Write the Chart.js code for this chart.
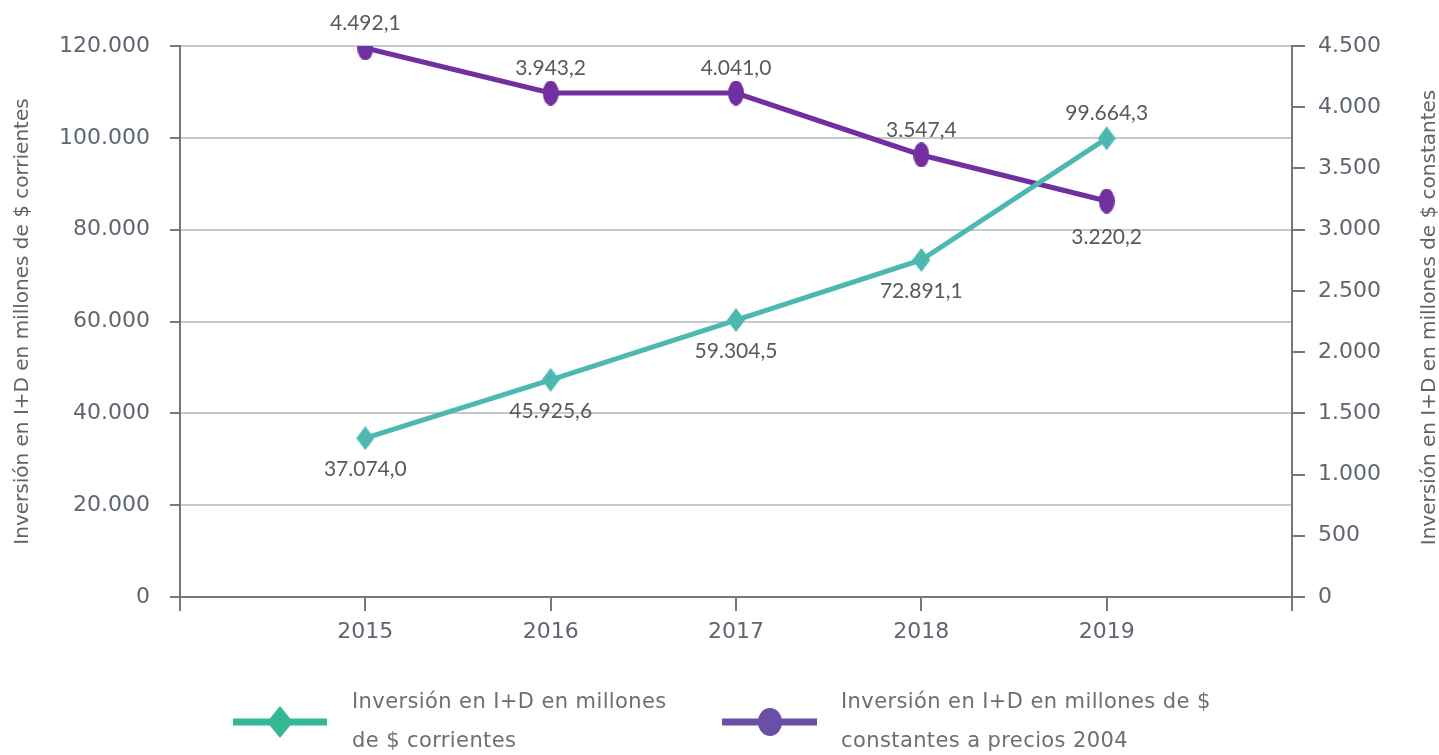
<!DOCTYPE html>
<html>
<head>
<meta charset="utf-8">
<script src="https://cdn.jsdelivr.net/npm/chart.js@4.4.1/dist/chart.umd.min.js"></script>
<style>
  html, body { margin: 0; padding: 0; background: #fff; }
  #wrap { width: 1439px; height: 755px; position: relative; }
</style>
</head>
<body>
<div id="wrap"><canvas id="chart"></canvas></div>
<script>
// years on the x axis
var years = [2015, 2016, 2017, 2018, 2019];
// where each point sits on the plot
var corrientes = [34600, 47300, 60300, 73400, 99900];
var constantes = [4484, 4116, 4116, 3610, 3234];
// the numbers printed next to each point
var corrientesText = ['37.074,0', '45.925,6', '59.304,5', '72.891,1', '99.664,3'];
var constantesText = ['4.492,1', '3.943,2', '4.041,0', '3.547,4', '3.220,2'];
// axis ticks
var leftTicks = [0, 20000, 40000, 60000, 80000, 100000, 120000];
var rightTicks = [0, 500, 1000, 1500, 2000, 2500, 3000, 3500, 4000, 4500];
// text
var leftTitle = 'Inversión en I+D en millones de $ corrientes';
var rightTitle = 'Inversión en I+D en millones de $ constantes';
var seriesNames = ['Inversión en I+D en millones de $ corrientes', 'Inversión en I+D en millones de $ constantes a precios 2004'];
var legendLines = [['Inversión en I+D en millones', 'de $ corrientes'], ['Inversión en I+D en millones de $', 'constantes a precios 2004']];

// label placement (style only)
var corrientesPos = ['below', 'below', 'below', 'below', 'above'];
var constantesPos = ['above', 'above', 'above', 'above', 'below'];

var GREEN = '#4db8b0';
var PURPLE = '#7030a0';
var AXIS = '#74777b';
var GRID = '#c7cacc';
var TICKTXT = '#5f6670';

function dots(v) {
    return String(v).replace(/\B(?=(\d{3})+(?!\d))/g, '.');
}

// point markers
function makeDiamond(w, h, color) {
    var c = document.createElement('canvas');
    c.width = w; c.height = h;
    var g = c.getContext('2d');
    g.fillStyle = color;
    g.beginPath();
    g.moveTo(w / 2, 0);
    g.lineTo(w, h / 2);
    g.lineTo(w / 2, h);
    g.lineTo(0, h / 2);
    g.closePath();
    g.fill();
    return c;
}
function makeEllipse(w, h, color) {
    var c = document.createElement('canvas');
    c.width = w; c.height = h;
    var g = c.getContext('2d');
    g.fillStyle = color;
    g.beginPath();
    g.ellipse(w / 2, h / 2, w / 2, h / 2, 0, 0, Math.PI * 2);
    g.fill();
    return c;
}
var greenMark = makeDiamond(18, 24, GREEN);
var purpleMark = makeEllipse(16, 25, PURPLE);

var extras = {
    id: 'extras',
    afterDatasetsDraw: function (chart) {
        var ctx = chart.ctx;
        ctx.save();
        // value labels
        ctx.font = '21px Lato';
        ctx.fillStyle = '#595959';
        ctx.textAlign = 'center';
        ctx.textBaseline = 'middle';
        var sets = [[0, corrientesText, corrientesPos, 31], [1, constantesText, constantesPos, 36]];
        sets.forEach(function (s) {
            var meta = chart.getDatasetMeta(s[0]);
            meta.data.forEach(function (pt, i) {
                var dy = s[2][i] == 'above' ? -25 : s[3];
                ctx.fillText(s[1][i], pt.x, pt.y + dy);
            });
        });

        // axis titles
        var area = chart.chartArea;
        var midY = (area.top + area.bottom) / 2;
        ctx.font = '20px "DejaVu Sans"';
        ctx.fillStyle = '#60646a';
        ctx.save();
        ctx.translate(23, midY);
        ctx.rotate(-Math.PI / 2);
        ctx.fillText(leftTitle, 0, 0);
        ctx.restore();
        ctx.save();
        ctx.translate(1430, midY - 4);
        ctx.rotate(-Math.PI / 2);
        ctx.fillText(rightTitle, 0, 0);
        ctx.restore();

        // legend
        var ly = 722;
        ctx.lineWidth = 7;
        ctx.strokeStyle = '#35b995';
        ctx.beginPath(); ctx.moveTo(233, ly); ctx.lineTo(327, ly); ctx.stroke();
        ctx.drawImage(makeDiamond(26, 32, '#35b995'), 280 - 13, ly - 16);
        ctx.strokeStyle = '#6a4fa6';
        ctx.beginPath(); ctx.moveTo(722, ly); ctx.lineTo(817, ly); ctx.stroke();
        ctx.fillStyle = '#6a4fa6';
        ctx.beginPath(); ctx.ellipse(770, ly, 12, 14, 0, 0, Math.PI * 2); ctx.fill();

        ctx.font = '21px "DejaVu Sans"';
        ctx.letterSpacing = '0.4px';
        ctx.fillStyle = '#6b6e72';
        ctx.textAlign = 'left';
        ctx.fillText(legendLines[0][0], 352, 703);
        ctx.fillText(legendLines[0][1], 352, 742);
        ctx.fillText(legendLines[1][0], 841, 703);
        ctx.fillText(legendLines[1][1], 841, 742);
        ctx.restore();
    }
};

var tickFont = { family: '"DejaVu Sans"', size: 22 };

new Chart(document.getElementById('chart'), {
    type: 'line',
    data: {
        datasets: [{
            label: seriesNames[0],
            data: years.map(function (y, i) { return { x: y, y: corrientes[i] }; }),
            yAxisID: 'y',
            borderColor: GREEN,
            backgroundColor: GREEN,
            borderWidth: 5,
            pointStyle: greenMark,
            pointRadius: 10,
            pointHoverRadius: 10,
            tension: 0
        }, {
            label: seriesNames[1],
            data: years.map(function (y, i) { return { x: y, y: constantes[i] }; }),
            yAxisID: 'y1',
            borderColor: PURPLE,
            backgroundColor: PURPLE,
            borderWidth: 5,
            pointStyle: purpleMark,
            pointRadius: 10,
            pointHoverRadius: 10,
            tension: 0
        }]
    },
    options: {
        responsive: true,
        maintainAspectRatio: false,
        animation: false,
        layout: { padding: { top: 46, left: 0, right: 0, bottom: 0 } },
        plugins: {
            legend: { display: false },
            tooltip: { enabled: false }
        },
        scales: {
            x: {
                type: 'linear',
                min: years[0] - 1,
                max: years[years.length - 1] + 1,
                afterBuildTicks: function (scale) {
                    var t = [years[0] - 1].concat(years, [years[years.length - 1] + 1]);
                    scale.ticks = t.map(function (v) { return { value: v }; });
                },
                afterFit: function (scale) { scale.height = 158; },
                grid: { drawOnChartArea: false, drawTicks: true, tickLength: 14, tickColor: AXIS, lineWidth: 2 },
                border: { color: AXIS, width: 2 },
                ticks: {
                    color: TICKTXT,
                    font: tickFont,
                    padding: 8,
                    maxRotation: 0,
                    callback: function (v) { return years.indexOf(v) >= 0 ? String(v) : ''; }
                }
            },
            y: {
                position: 'left',
                min: 0,
                max: 120000,
                afterBuildTicks: function (scale) {
                    scale.ticks = leftTicks.map(function (v) { return { value: v }; });
                },
                afterFit: function (scale) { scale.width = 180; },
                grid: { color: GRID, lineWidth: 2, tickColor: AXIS, tickLength: 10 },
                border: { color: AXIS, width: 2 },
                ticks: {
                    color: TICKTXT,
                    font: tickFont,
                    padding: 20,
                    callback: function (v) { return dots(v); }
                }
            },
            y1: {
                position: 'right',
                min: 0,
                max: 4500,
                afterBuildTicks: function (scale) {
                    scale.ticks = rightTicks.map(function (v) { return { value: v }; });
                },
                afterFit: function (scale) { scale.width = 147; },
                grid: { drawOnChartArea: false, tickColor: AXIS, tickLength: 13, lineWidth: 2 },
                border: { color: AXIS, width: 2 },
                ticks: {
                    color: TICKTXT,
                    font: tickFont,
                    padding: 13,
                    callback: function (v) { return dots(v); }
                }
            }
        }
    },
    plugins: [extras]
});
</script>
</body>
</html>
